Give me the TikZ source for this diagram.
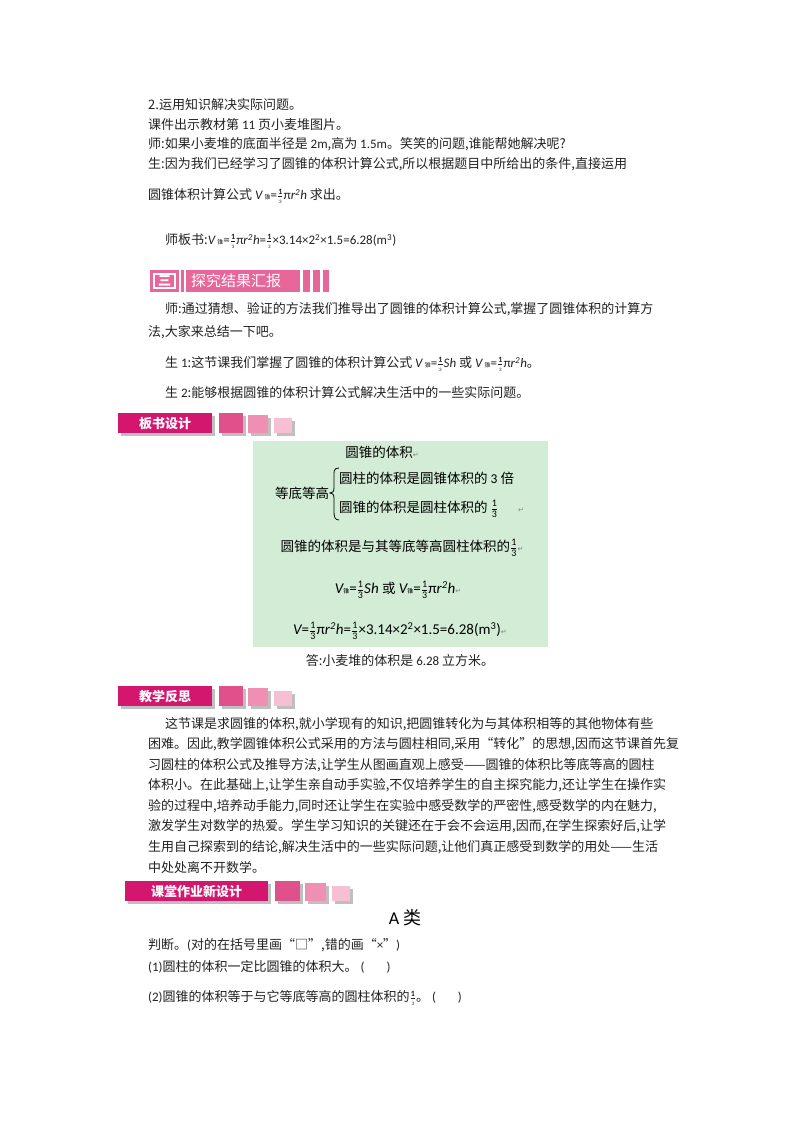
\documentclass[tikz,border=0pt]{standalone}
\usepackage{amsmath}
\usepackage{fontspec}
\usetikzlibrary{shadows}
\setmainfont{Noto Sans CJK SC}
\newfontfamily\lat{Carlito}
\newfontfamily\djfont{DejaVu Sans}
\definecolor{tx}{HTML}{222222}
\definecolor{pk}{HTML}{E8679A}
\definecolor{mg}{HTML}{D3176F}
\definecolor{sqa}{HTML}{E0508A}
\definecolor{sqb}{HTML}{EE8FB3}
\definecolor{sqc}{HTML}{F6BFD3}
\definecolor{gbox}{HTML}{D3ECD5}
\newcommand\fra{\ensuremath{\genfrac{}{}{0.4pt}{}{\mbox{\lat\fontsize{8}{8}\selectfont\bfseries 1}}{\mbox{\lat\fontsize{5}{5}\selectfont 3}}}}
\newcommand\frb{\ensuremath{\genfrac{}{}{0.4pt}{}{\mbox{\lat\fontsize{10}{10}\selectfont 1}}{\mbox{\lat\fontsize{10}{10}\selectfont 3}}}}
\newcommand\Vz{{\lat\itshape V}\,{\fontsize{6}{6}\selectfont 锥}}
\newcommand\ret{{\djfont\color{gray}\fontsize{7}{7}\selectfont ↵}}
\begin{document}
\begin{tikzpicture}[x=1pt,y=-1pt,
  txt/.style={anchor=west,inner sep=0pt,text=tx,font=\fontsize{13}{14}\selectfont},
  bx/.style={inner sep=0pt,text=black,font=\fontsize{13.5}{15}\selectfont},
  fx/.style={inner sep=0pt,text=black,font=\fontsize{15}{16}\selectfont},
  lab/.style={fill=mg,text=white,font=\fontsize{13}{13}\selectfont\bfseries,inner sep=0pt,anchor=north west,drop shadow}]
\useasboundingbox (0,0) rectangle (800,1132);
\fill[white] (0,0) rectangle (800,1132);
% top section
\node[txt] (t1) at (148,105) {2.运用知识解决实际问题。};
\node[txt] (t2) at (148,124.5) {课件出示教材第 {\lat 11} 页小麦堆图片。};
\node[txt] (t3) at (148,144) {师:如果小麦堆的底面半径是 {\lat 2m},高为 {\lat 1.5m}。笑笑的问题,谁能帮她解决呢?};
\node[txt] (t4) at (148,164) {生:因为我们已经学习了圆锥的体积计算公式,所以根据题目中所给出的条件,直接运用};
\node[txt] (t5) at (148,196) {圆锥体积计算公式 \Vz{\lat =}\fra{\lat π\itshape r\textsuperscript{2}h} 求出。};
\node[txt] (t6) at (165,241) {师板书:\Vz{\lat =}\fra{\lat π\itshape r\textsuperscript{2}h\upshape =}\fra{\lat ×3.14×2\textsuperscript{2}×1.5=6.28(m\textsuperscript{3})}};
% banner 1
\fill[pk] (150,270) rectangle (179,292);
\draw[white,line width=1.2pt] (154,274) rectangle (175,288);
\node[inner sep=0pt,text=white,font=\fontsize{13}{13}\selectfont\bfseries] (b1n) at (164.5,281) {三};
\fill[pk] (181,270) rectangle (184,292);
\fill[pk] (186,270) rectangle (300,292);
\node[inner sep=0pt,text=white,font=\fontsize{15}{15}\selectfont,anchor=west] (b1t) at (191,281) {探究结果汇报};
\fill[pk] (303,270) rectangle (310,292);
\fill[pk] (313,270) rectangle (320,292);
\fill[pk] (323,270) rectangle (329,292);
\node[txt] (p1) at (165,309) {师:通过猜想、验证的方法我们推导出了圆锥的体积计算公式,掌握了圆锥体积的计算方};
\node[txt] (p2) at (148,332) {法,大家来总结一下吧。};
\node[txt] (p3) at (165,364) {生 {\lat 1}:这节课我们掌握了圆锥的体积计算公式 \Vz{\lat =}\fra{\lat\itshape Sh} 或 \Vz{\lat =}\fra{\lat π\itshape r\textsuperscript{2}h}。};
\node[txt] (p4) at (165,393) {生 {\lat 2}:能够根据圆锥的体积计算公式解决生活中的一些实际问题。};
% banner 板书设计
\node[lab,minimum width=94pt,minimum height=20pt] (bs) at (118,413) {板书设计};
\fill[sqa,drop shadow] (219,413) rectangle (243,433);
\fill[sqb,drop shadow] (248,415) rectangle (268,433);
\fill[sqc,drop shadow] (274,418) rectangle (292,433);
% green box
\fill[gbox] (253,441) rectangle (548,647);
\node[bx] (g1) at (382,452) {圆锥的体积\ret};
\node[bx] (g2) at (302,493) {等底等高};
\draw[thick] (339,468) .. controls (333,468) and (334,472) .. (334,478) -- (334,488) .. controls (334,492) and (332,493) .. (330,493) .. controls (332,493) and (334,494) .. (334,498) -- (334,512) .. controls (334,517) and (335,520) .. (339,520);
\node[bx,anchor=west] (g3) at (339,478) {圆柱的体积是圆锥体积的 {\lat 3} 倍};
\node[bx,anchor=west] (g4) at (339,509) {圆锥的体积是圆柱体积的 \frb\hspace{20pt}\ret};
\node[bx] (g5) at (402,548) {圆锥的体积是与其等底等高圆柱体积的\frb\ret};
\node[fx] (g6) at (398,590) {{\lat\itshape V}{\fontsize{6}{6}\selectfont 锥}{\lat =}\frb{\lat\itshape Sh} {\fontsize{13.5}{15}\selectfont 或} {\lat\itshape V}{\fontsize{6}{6}\selectfont 锥}{\lat =}\frb{\lat π\itshape r\textsuperscript{2}h}\ret};
\node[fx] (g7) at (400,631) {{\lat\itshape V}{\lat =}\frb{\lat π\itshape r\textsuperscript{2}h\upshape =}\frb{\lat ×3.14×2\textsuperscript{2}×1.5=6.28(m\textsuperscript{3})}\ret};
\node[txt,anchor=center] (ans) at (400,661) {答:小麦堆的体积是 {\lat 6.28} 立方米。};
% banner 教学反思
\node[lab,minimum width=94pt,minimum height=20pt] (jx) at (118,686) {教学反思};
\fill[sqa,drop shadow] (219,686) rectangle (243,706);
\fill[sqb,drop shadow] (248,688) rectangle (268,706);
\fill[sqc,drop shadow] (274,691) rectangle (292,706);
\node[txt] (r1) at (165,724) {这节课是求圆锥的体积,就小学现有的知识,把圆锥转化为与其体积相等的其他物体有些};
\node[txt] (r2) at (148,744.5) {困难。因此,教学圆锥体积公式采用的方法与圆柱相同,采用“转化”的思想,因而这节课首先复};
\node[txt] (r3) at (148,765) {习圆柱的体积公式及推导方法,让学生从图画直观上感受——圆锥的体积比等底等高的圆柱};
\node[txt] (r4) at (148,785.5) {体积小。在此基础上,让学生亲自动手实验,不仅培养学生的自主探究能力,还让学生在操作实};
\node[txt] (r5) at (148,806) {验的过程中,培养动手能力,同时还让学生在实验中感受数学的严密性,感受数学的内在魅力,};
\node[txt] (r6) at (148,826.5) {激发学生对数学的热爱。学生学习知识的关键还在于会不会运用,因而,在学生探索好后,让学};
\node[txt] (r7) at (148,847) {生用自己探索到的结论,解决生活中的一些实际问题,让他们真正感受到数学的用处——生活};
\node[txt] (r8) at (148,867.5) {中处处离不开数学。};
% banner 课堂作业新设计
\node[lab,minimum width=143pt,minimum height=20pt] (kt) at (125,881) {课堂作业新设计};
\fill[sqa,drop shadow] (275,881) rectangle (300,901);
\fill[sqb,drop shadow] (305,883) rectangle (326,901);
\fill[sqc,drop shadow] (332,886) rectangle (350,901);
\node[inner sep=0pt,text=black,font=\fontsize{18}{18}\selectfont] (ak) at (405,918) {{\lat A} 类};
\node[txt] (q0) at (148,945) {判断。{\lat (}对的在括号里画“□”,错的画“{\lat ×}”{\lat )}};
\node[txt] (q1) at (148,967) {{\lat (1)}圆柱的体积一定比圆锥的体积大。 {\lat (\hspace{22pt})}};
\node[txt] (q2) at (148,998) {{\lat (2)}圆锥的体积等于与它等底等高的圆柱体积的\fra。 {\lat (\hspace{22pt})}};
\end{tikzpicture}
\end{document}
